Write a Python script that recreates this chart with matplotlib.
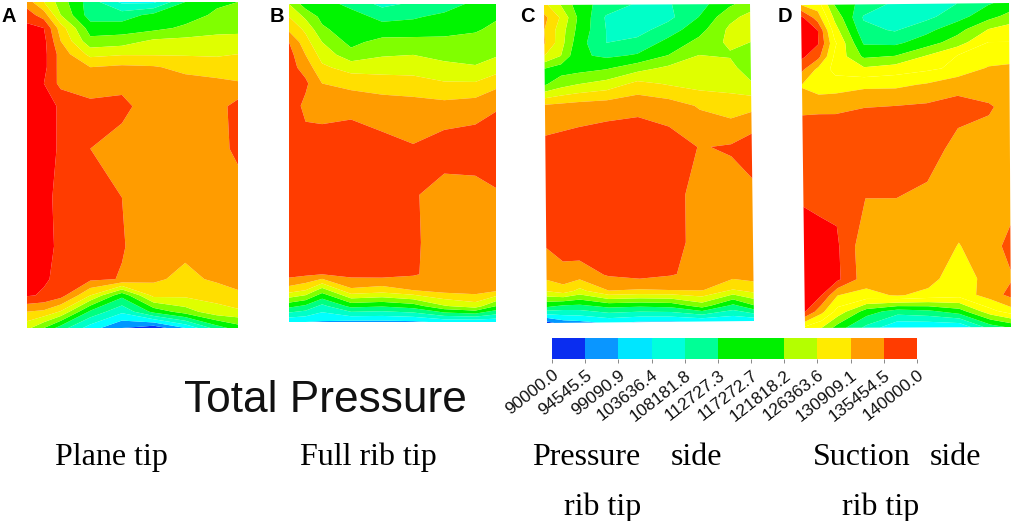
import numpy as np
import matplotlib
matplotlib.use("Agg")
import matplotlib.pyplot as plt
from matplotlib.colors import ListedColormap, BoundaryNorm
from matplotlib.colorbar import ColorbarBase

# Scale: value n.x means "inside colour band n" of the Total Pressure legend
scale_labels = ["90000.0", "94545.5", "99090.9", "103636.4", "108181.8", "112727.3",
                "117272.7", "121818.2", "126363.6", "130909.1", "135454.5", "140000.0"]
bar_colors = ["#0A2DF0", "#0A96FF", "#00E6FF", "#00FFDC", "#00FF96", "#00F000",
              "#00F000", "#B4FF00", "#FFEB00", "#FF9C00", "#FF3C00"]
field_colors = ["#0A32F5", "#0096FF", "#00FFFF", "#00FFC8", "#00FF80", "#00F500",
                "#80FF00", "#DFFF00", "#FFDF00", "#FF9C00", "#FF3C00", "#FF0000"]
field_colors_d = ["#0A32F5", "#0096FF", "#00FFFF", "#00FFC8", "#00FF80", "#00F500",
                  "#90FF00", "#FFFF00", "#FFFF00", "#FFAE00", "#FF5000", "#FF0000"]

span_t = [0, .04, .08, .12, .16, .20, .25, .32, .45, .60, .75, .85, .90, .95, 1.0]
span_s = [0, .08, .16, .30, .45, .60, .75, .90, 1.0]

panel_a = [
    [9.5, 8.0, 6.5, 4.5, 2.8, 2.8, 5.0, 5.8, 6.0],
    [10.5, 9.5, 7.0, 4.5, 4.5, 5.3, 5.5, 6.2, 6.5],
    [11.3, 11.0, 8.5, 5.5, 5.5, 5.7, 6.2, 6.5, 6.6],
    [11.5, 11.3, 9.0, 6.3, 6.5, 7.2, 7.3, 7.5, 7.5],
    [11.5, 11.3, 9.6, 7.7, 7.9, 7.9, 7.9, 7.9, 8.0],
    [11.5, 11.3, 9.6, 9.0, 9.2, 9.1, 8.7, 8.4, 8.4],
    [11.5, 11.0, 9.7, 9.7, 9.8, 9.5, 9.4, 9.3, 9.1],
    [11.5, 11.3, 10.9, 10.15, 10.2, 9.6, 9.6, 9.6, 10.4],
    [11.5, 11.3, 10.9, 10.0, 9.7, 9.5, 9.5, 9.7, 10.2],
    [11.5, 11.2, 10.8, 10.5, 10.0, 9.5, 9.5, 9.5, 9.6],
    [11.5, 11.3, 10.8, 10.5, 10.05, 9.6, 9.3, 9.5, 9.5],
    [11.3, 11.1, 10.8, 10.2, 9.95, 9.2, 8.7, 9.2, 9.2],
    [11.1, 10.9, 10.4, 8.0, 5.3, 8.3, 8.2, 8.3, 8.9],
    [9.0, 8.8, 7.9, 4.8, 3.2, 5.3, 6.5, 7.7, 7.8],
    [7.3, 6.0, 4.5, 2.5, 1.0, 0.3, 2.0, 4.5, 5.5],
]
panel_b = [
    [7.0, 5.5, 5.3, 4.8, 3.7, 4.2, 4.6, 5.2, 5.3],
    [8.0, 6.8, 5.7, 5.3, 4.8, 4.9, 5.2, 5.5, 5.9],
    [8.8, 7.8, 6.2, 5.4, 5.3, 5.4, 5.5, 5.9, 6.2],
    [10.0, 8.4, 7.0, 5.7, 6.4, 6.4, 6.4, 6.3, 6.5],
    [10.4, 9.0, 7.6, 6.4, 6.9, 7.0, 6.7, 6.6, 6.9],
    [10.4, 9.6, 8.2, 7.6, 7.6, 7.6, 7.3, 7.1, 7.5],
    [10.6, 10.2, 9.0, 8.7, 8.5, 8.4, 8.1, 8.1, 8.7],
    [10.6, 9.75, 9.6, 9.7, 9.5, 9.4, 9.3, 9.5, 9.9],
    [10.5, 10.4, 10.5, 10.6, 10.3, 10.05, 10.5, 10.6, 10.6],
    [10.6, 10.6, 10.6, 10.6, 10.5, 10.1, 9.6, 9.6, 9.9],
    [10.6, 10.6, 10.6, 10.6, 10.5, 10.1, 9.7, 9.6, 9.6],
    [10.4, 10.2, 10.0, 10.3, 10.4, 10.1, 9.6, 9.5, 9.5],
    [8.5, 8.0, 6.5, 8.8, 8.5, 9.0, 9.4, 9.5, 9.2],
    [5.3, 4.8, 3.7, 5.3, 5.1, 5.5, 6.9, 7.5, 6.0],
    [2.1, 2.0, 1.9, 1.7, 1.7, 1.8, 2.2, 2.2, 2.2],
]
panel_c = [
    [8.3, 7.0, 5.6, 4.5, 3.9, 3.9, 4.6, 5.8, 6.5],
    [9.3, 7.9, 6.0, 3.9, 3.5, 3.7, 5.0, 6.7, 7.3],
    [9.0, 7.5, 5.8, 4.0, 3.6, 4.5, 5.6, 7.2, 7.7],
    [9.1, 7.4, 5.5, 4.0, 4.3, 5.3, 6.3, 7.2, 7.0],
    [8.0, 7.0, 5.2, 4.8, 5.1, 6.0, 7.0, 6.9, 6.4],
    [6.0, 5.5, 5.6, 5.9, 6.6, 7.2, 7.5, 7.3, 6.4],
    [5.9, 6.6, 7.0, 7.4, 8.3, 7.9, 7.6, 7.6, 7.1],
    [9.3, 9.4, 9.5, 9.6, 9.75, 9.5, 8.9, 8.5, 8.7],
    [10.3, 10.4, 10.5, 10.7, 10.7, 10.5, 9.95, 10.1, 10.6],
    [10.4, 10.5, 10.6, 10.7, 10.6, 10.3, 9.7, 9.6, 9.7],
    [10.1, 10.4, 10.6, 10.7, 10.6, 10.3, 9.7, 9.6, 9.5],
    [9.4, 9.7, 9.5, 10.1, 10.4, 10.1, 9.6, 9.5, 9.5],
    [8.0, 8.5, 7.7, 9.0, 8.9, 9.0, 9.1, 8.0, 8.5],
    [5.0, 4.6, 4.6, 5.2, 5.1, 5.3, 6.5, 4.8, 6.0],
    [0.6, 1.5, 1.7, 2.2, 1.9, 1.9, 2.1, 2.1, 2.2],
]
panel_d = [
    [9.0, 8.5, 6.0, 4.6, 3.8, 3.7, 4.0, 4.9, 5.3],
    [11.3, 9.5, 6.8, 3.9, 3.6, 3.7, 4.6, 5.6, 6.3],
    [11.5, 11.0, 7.5, 4.3, 3.9, 4.7, 5.6, 7.0, 7.4],
    [11.5, 11.05, 8.2, 4.9, 4.8, 5.5, 6.5, 8.0, 8.0],
    [11.2, 10.3, 7.8, 5.8, 6.0, 7.0, 8.0, 8.3, 8.5],
    [10.2, 8.7, 7.7, 7.2, 7.5, 7.8, 8.2, 9.1, 9.2],
    [8.9, 8.4, 8.5, 8.8, 8.8, 9.1, 9.7, 9.5, 9.5],
    [9.9, 9.9, 9.9, 10.0, 10.1, 10.2, 10.3, 10.1, 9.7],
    [10.5, 10.6, 10.6, 10.6, 10.6, 10.4, 9.7, 9.6, 9.6],
    [10.9, 10.7, 10.8, 10.0, 10.0, 9.8, 9.6, 9.5, 9.6],
    [11.5, 11.5, 11.15, 9.3, 9.6, 9.6, 8.95, 9.6, 10.3],
    [11.5, 11.4, 11.2, 9.4, 9.4, 9.4, 8.3, 9.5, 9.9],
    [11.2, 11.0, 9.0, 8.7, 9.1, 8.7, 8.4, 9.5, 10.3],
    [11.05, 9.3, 7.6, 5.5, 4.5, 4.8, 5.6, 7.7, 8.6],
    [7.7, 7.0, 5.5, 3.7, 2.05, 2.05, 2.1, 4.5, 5.2],
]
panels = [panel_a, panel_b, panel_c, panel_d]
panel_colors = [field_colors, field_colors, field_colors, field_colors_d]
# corners in pixels: top-left, top-right, bottom-left, bottom-right
corners = [
    [(27, 2), (238, 2), (27, 328), (238, 328)],
    [(289, 4), (496, 4), (289, 322), (496, 322)],
    [(544, 5), (750, 4), (547, 323), (754, 321)],
    [(801, 5), (1009, 3), (805, 328), (1011, 327)],
]
letters = [("A", 2, 22), ("B", 270, 22), ("C", 520, 22), ("D", 778, 22)]
captions = [
    ("Plane tip", 55, 465), ("Full rib tip", 300, 465),
    ("Pressure", 532, 465), ("side", 671, 465), ("rib tip", 564, 515),
    ("Suction", 813, 465), ("side", 930, 465), ("rib tip", 842, 515),
]

W, H = 1017, 521
fig = plt.figure(figsize=(W / 100, H / 100), dpi=100)
ax = fig.add_axes([0, 0, 1, 1])
ax.set_xlim(0, W)
ax.set_ylim(H, 0)
ax.axis("off")

levels = np.arange(0, 13)
S, T = np.meshgrid(span_s, span_t)
for values, cols, (tl, tr, bl, br) in zip(panels, panel_colors, corners):
    xl = tl[0] + (bl[0] - tl[0]) * T
    xr = tr[0] + (br[0] - tr[0]) * T
    yt = tl[1] + (tr[1] - tl[1]) * S
    yb = bl[1] + (br[1] - bl[1]) * S
    X = xl + (xr - xl) * S
    Y = yt + (yb - yt) * T
    ax.contourf(X, Y, np.array(values), levels=levels, colors=cols, antialiased=True)

for txt, x, y in letters:
    ax.text(x, y, txt, fontsize=14.5, fontweight="bold", family="Liberation Sans",
            ha="left", va="baseline", color="black")
for txt, x, y in captions:
    ax.text(x, y, txt, fontsize=23, family="Liberation Serif",
            ha="left", va="baseline", color="black")
ax.text(184, 412, "Total Pressure", fontsize=31.9, family="Liberation Sans",
        ha="left", va="baseline", color="#111111")

# Colour bar
cax = fig.add_axes([552 / W, 1 - 359 / H, (917 - 552) / W, 21 / H])
bounds = [float(v) for v in scale_labels]
cb = ColorbarBase(cax, cmap=ListedColormap(bar_colors), norm=BoundaryNorm(bounds, len(bar_colors)),
                  orientation="horizontal", spacing="proportional", ticks=bounds)
cb.outline.set_visible(False)
cb.ax.set_xticklabels(scale_labels, rotation=38, ha="right", rotation_mode="anchor",
                      fontsize=12.5, family="Liberation Sans", color="#111111")
cb.ax.tick_params(axis="x", length=3, width=0.7, color="#888888", pad=3)
cb.ax.minorticks_off()

fig.savefig("out.png", dpi=100)
